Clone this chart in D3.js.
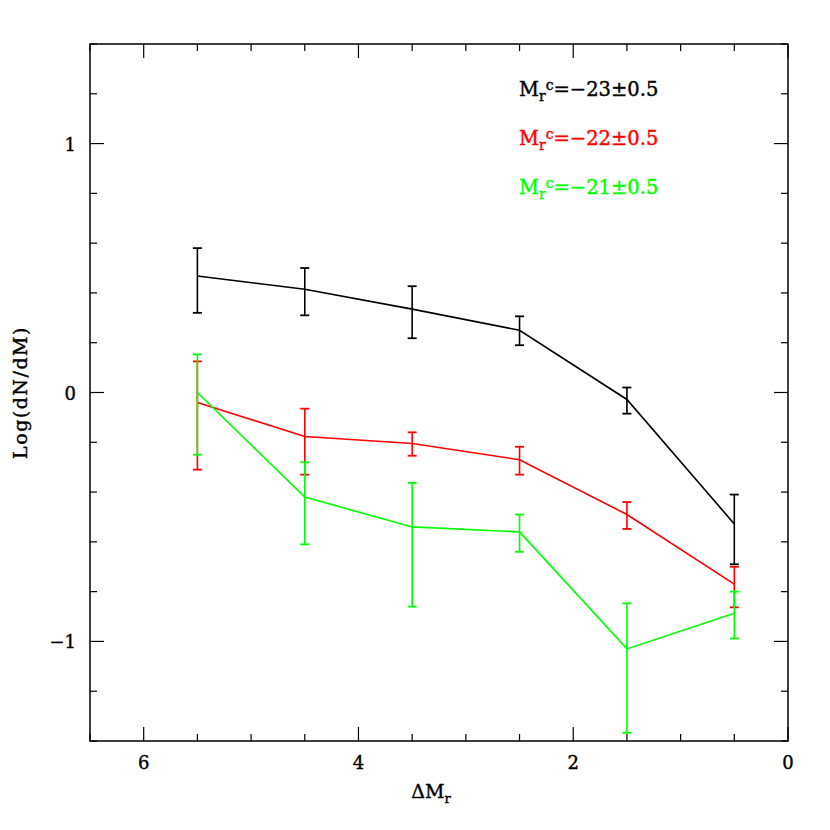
<!DOCTYPE html>
<html>
<head>
<meta charset="utf-8">
<script src="https://cdn.jsdelivr.net/npm/d3@7"></script>
<style>
  body { margin: 0; background: #fff; }
  text { font-family: "DejaVu Serif", "Liberation Serif", serif; }
</style>
</head>
<body>
<script>
// data
const dM = [5.5, 4.5, 3.5, 2.5, 1.5, 0.5];

const black = [0.468, 0.415, 0.335, 0.25, -0.028, -0.528];
const blackHi = [0.58, 0.50, 0.427, 0.306, 0.02, -0.41];
const blackLo = [0.32, 0.31, 0.218, 0.19, -0.085, -0.69];

const red = [-0.04, -0.177, -0.205, -0.27, -0.49, -0.77];
const redHi = [0.125, -0.065, -0.16, -0.218, -0.44, -0.70];
const redLo = [-0.31, -0.33, -0.254, -0.33, -0.548, -0.863];

const green = [0.0, -0.42, -0.54, -0.56, -1.03, -0.887];
const greenHi = [0.153, -0.28, -0.363, -0.49, -0.847, -0.80];
const greenLo = [-0.25, -0.61, -0.86, -0.64, -1.367, -0.988];

const legendMag = ["23", "22", "21"];
const xTickLabels = [6, 4, 2, 0];
const yTickLabels = [1, 0, -1];

const series = [
    { v: black, hi: blackHi, lo: blackLo, color: "#000000", mag: legendMag[0] },
    { v: red, hi: redHi, lo: redLo, color: "#ff0000", mag: legendMag[1] },
    { v: green, hi: greenHi, lo: greenLo, color: "#00ff00", mag: legendMag[2] }
];

const margin = { top: 44, right: 42, bottom: 89, left: 90 };
const W = 830, H = 830;
const w = W - margin.left - margin.right,
    h = H - margin.top - margin.bottom;

const svg = d3.select("body").append("svg")
    .attr("width", W)
    .attr("height", H);

const g = svg.append("g")
    .attr("transform", "translate(" + margin.left + "," + margin.top + ")");

const x = d3.scaleLinear().domain([6.5, 0]).range([0, w]);
const y = d3.scaleLinear().domain([-1.4, 1.4]).range([h, 0]);

// frame
g.append("rect")
    .attr("width", w).attr("height", h)
    .attr("fill", "none").attr("stroke", "#000").attr("stroke-width", 1.5);

// ticks on all four sides
const xMinor = d3.range(0, 6.51, 0.5);
const yMinor = d3.range(-1.4, 1.41, 0.2).map(d => Math.round(d * 10) / 10);
const isMajX = d => Math.abs(d / 2 - Math.round(d / 2)) < 1e-6;
const isMajY = d => Math.abs(d - Math.round(d)) < 1e-6;

xMinor.forEach(d => {
    const len = isMajX(d) ? 14 : 7;
    g.append("line").attr("x1", x(d)).attr("x2", x(d)).attr("y1", h).attr("y2", h - len)
        .attr("stroke", "#000").attr("stroke-width", 1.2);
    g.append("line").attr("x1", x(d)).attr("x2", x(d)).attr("y1", 0).attr("y2", len)
        .attr("stroke", "#000").attr("stroke-width", 1.2);
});
yMinor.forEach(d => {
    const len = isMajY(d) ? 14 : 7;
    g.append("line").attr("x1", 0).attr("x2", len).attr("y1", y(d)).attr("y2", y(d))
        .attr("stroke", "#000").attr("stroke-width", 1.2);
    g.append("line").attr("x1", w).attr("x2", w - len).attr("y1", y(d)).attr("y2", y(d))
        .attr("stroke", "#000").attr("stroke-width", 1.2);
});

// tick labels
g.selectAll(".xl").data(xTickLabels).enter().append("text")
    .attr("x", d => x(d)).attr("y", h + 28)
    .attr("text-anchor", "middle").attr("font-size", 18)
    .attr("stroke", "#000").attr("stroke-width", 0.4)
    .text(d => d);

g.selectAll(".yl").data(yTickLabels).enter().append("text")
    .attr("x", -14).attr("y", d => y(d) + 7)
    .attr("text-anchor", "end").attr("font-size", 18)
    .attr("stroke", "#000").attr("stroke-width", 0.4)
    .text(d => d < 0 ? "\u2212" + Math.abs(d) : d);

// axis titles
const xt = g.append("text")
    .attr("x", w / 2 - 8).attr("y", h + 57)
    .attr("text-anchor", "middle").attr("font-size", 19)
    .attr("stroke", "#000").attr("stroke-width", 0.4);
xt.append("tspan").text("\u0394M");
xt.append("tspan").attr("font-size", 13).attr("dy", 5).text("r");

g.append("text")
    .attr("transform", "translate(" + (-63) + "," + (h / 2) + ") rotate(-90)")
    .attr("text-anchor", "middle").attr("font-size", 19)
    .attr("letter-spacing", 1.5)
    .attr("stroke", "#000").attr("stroke-width", 0.4)
    .text("Log(dN/dM)");

// lines and error bars
const line = d3.line()
    .x((d, i) => x(dM[i]))
    .y(d => y(d));

series.forEach(s => {
    g.append("path")
        .datum(s.v)
        .attr("d", line)
        .attr("fill", "none")
        .attr("stroke", s.color)
        .attr("stroke-width", 1.6);

    dM.forEach((m, i) => {
        const cx = x(m);
        g.append("line").attr("x1", cx).attr("x2", cx)
            .attr("y1", y(s.hi[i])).attr("y2", y(s.lo[i]))
            .attr("stroke", s.color).attr("stroke-width", 1.6);
        [s.hi[i], s.lo[i]].forEach(v => {
            g.append("line").attr("x1", cx - 4.5).attr("x2", cx + 4.5)
                .attr("y1", y(v)).attr("y2", y(v))
                .attr("stroke", s.color).attr("stroke-width", 1.8);
        });
    });
});

// legend
series.forEach((s, i) => {
    const t = svg.append("text")
        .attr("x", 519).attr("y", 96 + i * 49)
        .attr("font-size", 19.5).attr("fill", s.color)
        .attr("stroke", s.color).attr("stroke-width", 0.4);
    t.append("tspan").text("M");
    t.append("tspan").attr("font-size", 14).attr("dy", 5).text("r");
    t.append("tspan").attr("font-size", 14).attr("dy", -11).text("c");
    t.append("tspan").attr("dy", 6).text("=\u2212" + s.mag + "\u00b10.5");
});
</script>
</body>
</html>
